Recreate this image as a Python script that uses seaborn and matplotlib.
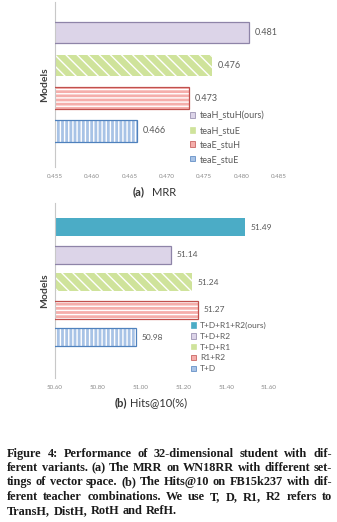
import matplotlib
matplotlib.use("Agg")
import matplotlib.pyplot as plt
import seaborn as sns
import pandas as pd
from matplotlib.patches import Patch, Rectangle

# --- data ---
mrr_models = ["teaH_stuH(ours)", "teaH_stuE", "teaE_stuH", "teaE_stuE"]
mrr_values = [0.481, 0.476, 0.473, 0.466]
mrr_ticks = [0.455, 0.460, 0.465, 0.470, 0.475, 0.480, 0.485]

hits_models = ["T+D+R1+R2(ours)", "T+D+R2", "T+D+R1", "R1+R2", "T+D"]
hits_values = [51.49, 51.14, 51.24, 51.27, 50.98]
hits_ticks = [50.60, 50.80, 51.00, 51.20, 51.40, 51.60]

caption_lines = [
    "Figure 4: Performance of 32-dimensional student with dif-",
    "ferent variants. (a) The MRR on WN18RR with different set-",
    "tings of vector space. (b) The Hits@10 on FB15k237 with dif-",
    "ferent teacher combinations. We use T, D, R1, R2 refers to",
    "TransH, DistH, RotH and RefH.",
]

# --- bar styles: (face, edge, hatch) ---
PURPLE = ("#dcd4e8", "#8e84a8", None)
GREEN = ("#cfe39b", None, "\\\\\\")
RED = ("#f5aeab", "#c0504d", "----")
BLUE = ("#a8c3e6", "#4f81bd", "||||")
TEAL = ("#4bacc6", None, None)

mrr_styles = [PURPLE, GREEN, RED, BLUE]
hits_styles = [TEAL, PURPLE, GREEN, RED, BLUE]

W, H = 337, 522
TEXT_GRAY = "#595959"

sns.set_style("white")
plt.rcParams["font.family"] = ["Lato", "DejaVu Sans"]
plt.rcParams["hatch.linewidth"] = 1.0


def hbar_panel(ax, models, values, styles, ticks, fmt, ylim, label_size, leg_anchor, leg_spacing):
    df = pd.DataFrame({"model": models, "value": values})
    palette = {m: s[0] for m, s in zip(models, styles)}
    sns.barplot(data=df, x="value", y="model", hue="model", palette=palette, order=models,
                hue_order=models, orient="h", width=0.65, saturation=1, legend=False, ax=ax)

    # restyle each bar: white hatch inside, coloured outline on top
    for cont, (face, edge, hatch) in zip(ax.containers, styles):
        for bar in cont:
            bar.set_linewidth(0)
            if hatch:
                bar.set_hatch(hatch)
                bar.set_edgecolor("white")
            if edge:
                ax.add_patch(Rectangle(bar.get_xy(), bar.get_width(), bar.get_height(),
                                       fill=False, edgecolor=edge, linewidth=0.9, zorder=3))
        ax.bar_label(cont, fmt=fmt, padding=4, fontsize=label_size, color=TEXT_GRAY)

    ax.set_xlim(ticks[0], ticks[-1])
    ax.set_ylim(*ylim)
    ax.set_xticks(ticks)
    ax.set_xticklabels([fmt % t for t in ticks])
    ax.set_yticks([])
    ax.tick_params(axis="x", length=0, labelsize=4.5, colors="#8c8c8c", pad=5)
    ax.set_xlabel("")
    ax.set_ylabel("Models", fontsize=7.5, fontweight="bold", color="#404040", labelpad=4)
    for side in ["top", "right", "bottom"]:
        ax.spines[side].set_visible(False)
    ax.spines["left"].set_color("#c8c8c8")
    ax.spines["left"].set_linewidth(0.8)

    handles = [Patch(facecolor=s[0], edgecolor=s[1] or s[0], linewidth=0.5) for s in styles]
    fig.legend(handles, models, loc="upper left", bbox_to_anchor=leg_anchor, frameon=False,
               fontsize=label_size, labelcolor=TEXT_GRAY, handlelength=0.6, handleheight=0.6,
               handletextpad=0.5, labelspacing=leg_spacing, borderpad=0, borderaxespad=0)


fig = plt.figure(figsize=(W / 100, H / 100), dpi=100)

# --- (a) MRR ---
ax1 = fig.add_axes([55 / W, 1 - 167 / H, 224 / W, 165 / H])
hbar_panel(ax1, mrr_models, mrr_values, mrr_styles, mrr_ticks, "%.3f",
           (4.1, -0.93), 6.5, (190 / W, 1 - 111 / H), 0.6)
fig.text(133 / W, 1 - 192 / H, "(a)", fontsize=8, fontweight="bold", color="#333333", va="center")
fig.text(152 / W, 1 - 192 / H, "MRR", fontsize=8, color="#333333", va="center")

# --- (b) Hits@10 ---
ax2 = fig.add_axes([55 / W, 1 - 378 / H, 214 / W, 175 / H])
hbar_panel(ax2, hits_models, hits_values, hits_styles, hits_ticks, "%.2f",
           (5.47, -0.87), 6, (191 / W, 1 - 322 / H), 0.45)
fig.text(115 / W, 1 - 403 / H, "(b)", fontsize=8, fontweight="bold", color="#333333", va="center")
fig.text(130 / W, 1 - 403 / H, "Hits@10(%)", fontsize=8, color="#333333", va="center")

# --- justified caption under the charts ---
renderer = fig.canvas.get_renderer()
x_left, x_right = 7, 332
line_y = [454, 468, 482, 497, 511]
for i, line in enumerate(caption_lines):
    words = line.split()
    texts = [fig.text(0, 1 - line_y[i] / H, w, fontsize=8.8, fontweight="bold", color="#1a1a1a",
                      family="Liberation Serif", va="center") for w in words]
    widths = [t.get_window_extent(renderer).width for t in texts]
    if i == len(caption_lines) - 1:
        gap = 3.5
    else:
        gap = (x_right - x_left - sum(widths)) / (len(words) - 1)
    x = x_left
    for t, w in zip(texts, widths):
        t.set_x(x / W)
        x += w + gap

fig.savefig("out.png", dpi=100)
